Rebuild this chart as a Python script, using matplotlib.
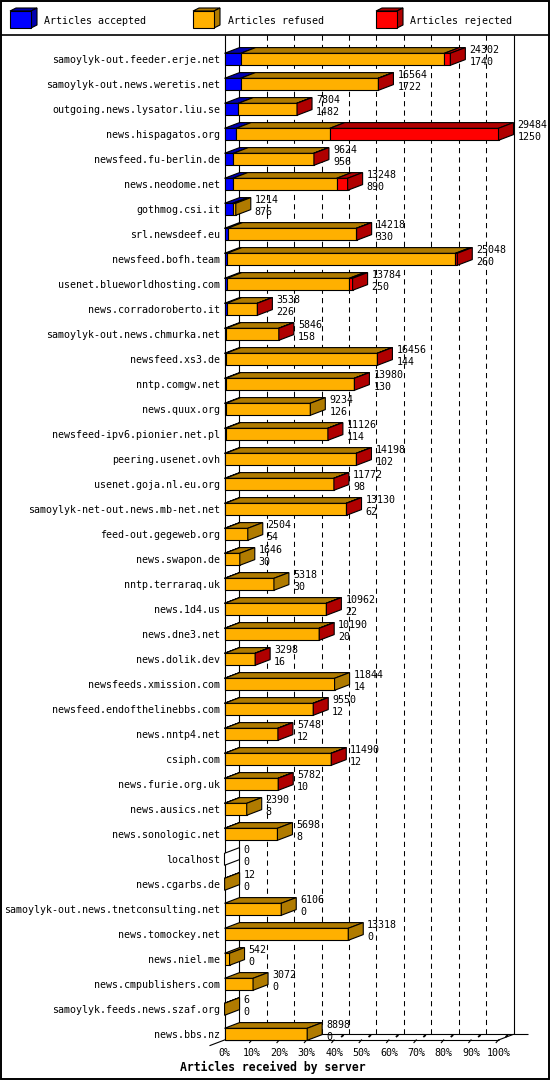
import matplotlib
matplotlib.use("Agg")
import matplotlib.pyplot as plt
import matplotlib.transforms as mtransforms
from matplotlib.patches import Polygon, Rectangle

# ---------------- data ----------------
servers = [
    "samoylyk-out.feeder.erje.net", "samoylyk-out.news.weretis.net",
    "outgoing.news.lysator.liu.se", "news.hispagatos.org",
    "newsfeed.fu-berlin.de", "news.neodome.net", "gothmog.csi.it",
    "srl.newsdeef.eu", "newsfeed.bofh.team", "usenet.blueworldhosting.com",
    "news.corradoroberto.it", "samoylyk-out.news.chmurka.net",
    "newsfeed.xs3.de", "nntp.comgw.net", "news.quux.org",
    "newsfeed-ipv6.pionier.net.pl", "peering.usenet.ovh",
    "usenet.goja.nl.eu.org", "samoylyk-net-out.news.mb-net.net",
    "feed-out.gegeweb.org", "news.swapon.de", "nntp.terraraq.uk",
    "news.1d4.us", "news.dne3.net", "news.dolik.dev",
    "newsfeeds.xmission.com", "newsfeed.endofthelinebbs.com",
    "news.nntp4.net", "csiph.com", "news.furie.org.uk", "news.ausics.net",
    "news.sonologic.net", "localhost", "news.cgarbs.de",
    "samoylyk-out.news.tnetconsulting.net", "news.tomockey.net",
    "news.niel.me", "news.cmpublishers.com", "samoylyk.feeds.news.szaf.org",
    "news.bbs.nz",
]
offered = [24302, 16564, 7804, 29484, 9624, 13248, 1214, 14218, 25048, 13784,
           3538, 5846, 16456, 13980, 9234, 11126, 14198, 11772, 13130, 2504,
           1646, 5318, 10962, 10190, 3298, 11844, 9550, 5748, 11490, 5782,
           2390, 5698, 0, 12, 6106, 13318, 542, 3072, 6, 8898]
accepted = [1740, 1722, 1482, 1250, 956, 890, 876, 330, 260, 250,
            226, 158, 144, 130, 126, 114, 102, 98, 62, 54,
            30, 30, 22, 20, 16, 14, 12, 12, 12, 10,
            8, 8, 0, 0, 0, 0, 0, 0, 0, 0]
rejected = [650, 40, 30, 18154, 30, 1180, 0, 30, 200, 360,
            20, 20, 20, 20, 0, 20, 20, 20, 40, 0,
            0, 0, 20, 20, 20, 0, 20, 20, 20, 20,
            0, 0, 0, 0, 0, 0, 0, 0, 0, 0]
refused = [o - a - r for o, a, r in zip(offered, accepted, rejected)]

tick_values = [0, 10, 20, 30, 40, 50, 60, 70, 80, 90, 100]
tick_labels = ["0%", "10%", "20%", "30%", "40%", "50%", "60%", "70%", "80%", "90%", "100%"]
legend_labels = ["Articles accepted", "Articles refused", "Articles rejected"]
x_title = "Articles received by server"

# ---------------- style ----------------
face_colors = ["#0000ff", "#ffb000", "#ff0000"]
dark_colors = ["#0000b0", "#b07b00", "#b00000"]
FONT = "DejaVu Sans Mono"
FS = 7.2
LW = 0.8

W, H, DPI = 550, 1080, 100
FRONT_L, FRONT_R, TOP, FLOOR = 224.5, 498.5, 35.0, 1040.0
ROW0, PITCH = 59.3, 25.0
DEPTH_X, DEPTH_Y = 15.0, 5.7
BAR_H = 12.0 / PITCH

fig = plt.figure(figsize=(W / DPI, H / DPI), dpi=DPI)
fig.patch.set_facecolor("white")

# overlay in pixel coordinates (frame, legend, title)
ov = fig.add_axes([0, 0, 1, 1])
ov.set_xlim(0, W)
ov.set_ylim(H, 0)
ov.axis("off")

ax = fig.add_axes([FRONT_L / W, (H - FLOOR) / H, (FRONT_R - FRONT_L) / W, (FLOOR - TOP) / H])
ax.set_xlim(0, 100)
y_bot = (FLOOR - ROW0) / PITCH
y_top = (TOP - ROW0) / PITCH
ax.set_ylim(y_bot, y_top)
ax.axis("off")

# pixel -> data units
inv = ax.transData.inverted()
p0 = ax.transData.transform((0, 0))
q = inv.transform((p0[0] + 1.0, p0[1] + 1.0))
ux, uy = q[0], q[1]  # data per pixel (x right, y up)
ddx, ddy = DEPTH_X * ux, DEPTH_Y * uy


def line(xs, ys, **kw):
    kw.setdefault("color", "black")
    kw.setdefault("lw", LW)
    ax.plot(xs, ys, clip_on=False, solid_capstyle="butt", **kw)


# back wall grid (dashed)
for t in tick_values[1:-1]:
    line([t + ddx, t + ddx], [y_top, y_bot + ddy], ls=(0, (5, 4)), lw=0.75, zorder=1)
# back walls
line([ddx, ddx], [y_top, y_bot + ddy], zorder=1)
line([100 + ddx, 100 + ddx], [y_top, y_bot + ddy], zorder=1)
# floor
line([ddx, 100 + 2 * ddx], [y_bot + ddy, y_bot + ddy], zorder=1)
line([100, 100 + ddx], [y_bot, y_bot + ddy], zorder=1)
line([-ddx, ddx], [y_bot - ddy, y_bot + ddy], zorder=1)
line([0, 100], [y_bot, y_bot], zorder=1)
# floor ticks
for t in tick_values[1:]:
    line([t - 2.7 * ux, t + 0.3 * ux], [y_bot - 3 * uy, y_bot + 0.5 * uy], zorder=1)
    line([t + 7 * ux, t + 9.5 * ux], [y_bot + 3 * uy, y_bot + 5 * uy], lw=1.3, zorder=1)
# front left wall
line([0, 0], [y_top, y_bot], zorder=1)

mx = max(offered)
name_tr = mtransforms.offset_copy(ax.transData, fig, x=-4.5, y=-4.0, units="dots")
val1_tr = mtransforms.offset_copy(ax.transData, fig, x=19.0, y=6.0, units="dots")
val2_tr = mtransforms.offset_copy(ax.transData, fig, x=19.0, y=-5.4, units="dots")

for i, name in enumerate(servers):
    yt = i - BAR_H / 2
    yb = i + BAR_H / 2
    vals = [accepted[i], refused[i], rejected[i]]
    x = 0.0
    last = None
    for k, v in enumerate(vals):
        if v <= 0:
            continue
        w = v / mx * 100.0
        ax.add_patch(Polygon([(x, yt), (x + w, yt), (x + w, yb), (x, yb)], closed=True,
                             fc=face_colors[k], ec="black", lw=LW, clip_on=False, zorder=3))
        ax.add_patch(Polygon([(x, yt), (x + w, yt), (x + w + ddx, yt + ddy), (x + ddx, yt + ddy)],
                             closed=True, fc=dark_colors[k], ec="black", lw=LW, clip_on=False, zorder=3))
        x += w
        last = k
    side_fc = dark_colors[last] if last is not None else "white"
    ax.add_patch(Polygon([(x, yt), (x + ddx, yt + ddy), (x + ddx, yb + ddy), (x, yb)], closed=True,
                         fc=side_fc, ec="black", lw=LW, clip_on=False, zorder=3))
    ax.text(0, i, name, transform=name_tr, ha="right", va="baseline",
            family=FONT, fontsize=FS, clip_on=False)
    ax.text(x, i, str(offered[i]), transform=val1_tr, ha="left", va="baseline",
            family=FONT, fontsize=FS, clip_on=False, zorder=4)
    ax.text(x, i, str(accepted[i]), transform=val2_tr, ha="left", va="baseline",
            family=FONT, fontsize=FS, clip_on=False, zorder=4)

tick_tr = mtransforms.offset_copy(ax.transData, fig, x=0, y=-16.0, units="dots")
for t, lab in zip(tick_values, tick_labels):
    ax.text(t, y_bot, lab, transform=tick_tr, ha="center", va="baseline",
            family=FONT, fontsize=FS, clip_on=False)

ov.text(273, 1071, x_title, ha="center", va="baseline", family=FONT,
        fontweight="bold", fontsize=8.3)

# legend
leg_x = [10, 193, 376]
for k, (lx, lab) in enumerate(zip(leg_x, legend_labels)):
    fw, fh, dx, dy = 21, 17, 6, 3
    top = 11
    ov.add_patch(Polygon([(lx, top), (lx + fw, top), (lx + fw + dx, top - dy), (lx + dx, top - dy)],
                         closed=True, fc=dark_colors[k], ec="black", lw=LW))
    ov.add_patch(Polygon([(lx + fw, top), (lx + fw + dx, top - dy), (lx + fw + dx, top + fh - dy),
                          (lx + fw, top + fh)], closed=True, fc=dark_colors[k], ec="black", lw=LW))
    ov.add_patch(Rectangle((lx, top), fw, fh, fc=face_colors[k], ec="black", lw=LW))
    ov.text(lx + 34.5, 24, lab, ha="left", va="baseline", family=FONT, fontsize=FS)

# separator + frame
ov.plot([0, W], [35, 35], color="black", lw=1.2)
ov.add_patch(Rectangle((0.8, 0.8), W - 2.3, H - 2.3, fill=False, ec="black", lw=1.4))

fig.savefig("out.png", dpi=DPI, facecolor="white")
